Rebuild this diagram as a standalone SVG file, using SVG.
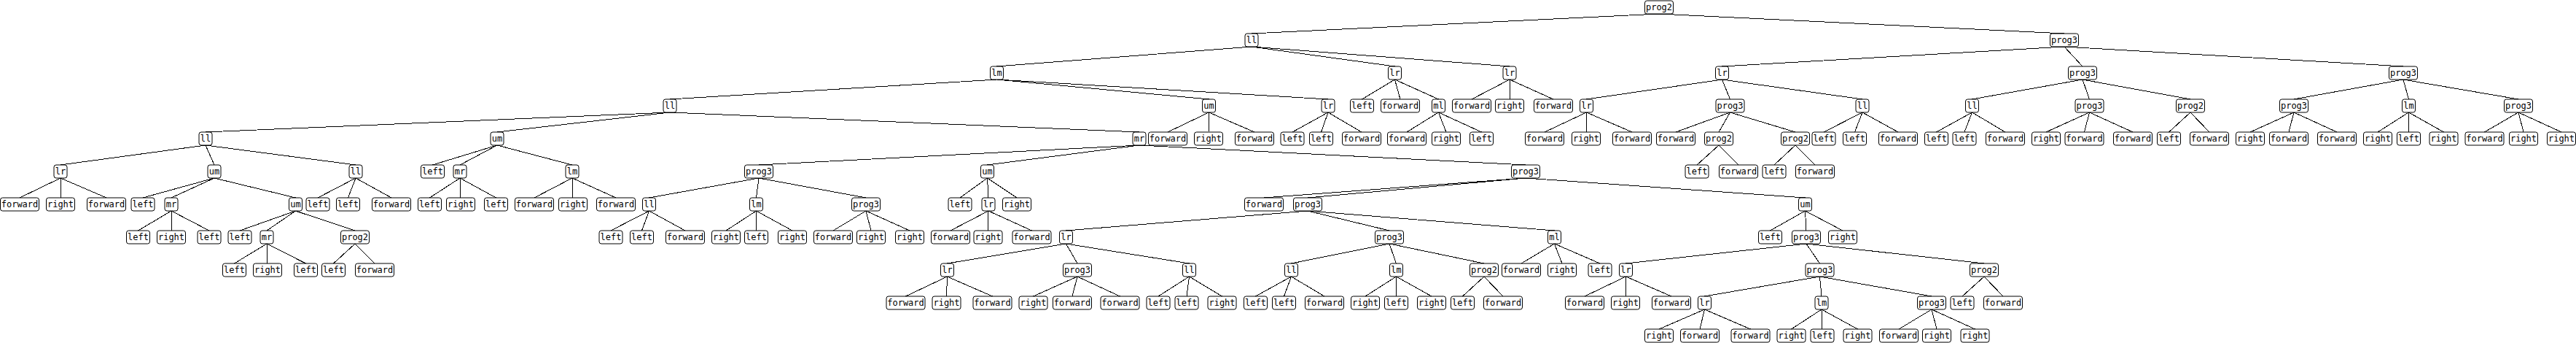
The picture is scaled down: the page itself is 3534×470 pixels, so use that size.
<svg xmlns="http://www.w3.org/2000/svg" width="3534" height="470" viewBox="0 0 3534 470">
<style>
.node rect{fill:#fff;stroke:#000;stroke-width:1;height:18px}
.node text{font-family:"DejaVu Sans Mono","Liberation Mono",monospace;font-size:12px;text-anchor:middle;fill:#000}
#connectors path{fill:none;stroke:#000;stroke-width:1;shape-rendering:crispEdges}
</style>
<rect x="0" y="0" width="3534" height="470" fill="#fff"/>
<g id="connectors">
<path d="M2276 19L1717 46M2276 19L2832 46"/>
<path d="M1717 64L1367.5 91M1717 64L1913.5 91M1717 64L2071 91"/>
<path d="M2832 64L2362.5 91M2832 64L2857 91M2832 64L3297 91"/>
<path d="M1367.5 109L919 136M1367.5 109L1658.5 136M1367.5 109L1822 136"/>
<path d="M1913.5 109L1868.5 136M1913.5 109L1921 136M1913.5 109L1973.5 136"/>
<path d="M2071 109L2019 136M2071 109L2071 136M2071 109L2131 136"/>
<path d="M2362.5 109L2176.5 136M2362.5 109L2373.5 136M2362.5 109L2555 136"/>
<path d="M2857 109L2705.5 136M2857 109L2866.5 136M2857 109L3005 136"/>
<path d="M3297 109L3147 136M3297 109L3304.5 136M3297 109L3455 136"/>
<path d="M919 154L282 181M919 154L682 181M919 154L1563 181"/>
<path d="M1658.5 154L1602 181M1658.5 154L1658 181M1658.5 154L1721 181"/>
<path d="M1822 154L1773 181M1822 154L1812.5 181M1822 154L1868 181"/>
<path d="M1973.5 154L1930 181M1973.5 154L1984 181M1973.5 154L2032.5 181"/>
<path d="M2176.5 154L2119 181M2176.5 154L2176 181M2176.5 154L2239 181"/>
<path d="M2373.5 154L2299 181M2373.5 154L2358 181M2373.5 154L2463 181"/>
<path d="M2555 154L2502 181M2555 154L2544.5 181M2555 154L2604 181"/>
<path d="M2705.5 154L2656.5 181M2705.5 154L2695 181M2705.5 154L2751 181"/>
<path d="M2866.5 154L2807 181M2866.5 154L2859.5 181M2866.5 154L2926 181"/>
<path d="M3005 154L2975.5 181M3005 154L3031 181"/>
<path d="M3147 154L3087 181M3147 154L3140 181M3147 154L3206 181"/>
<path d="M3304.5 154L3262 181M3304.5 154L3304.5 181M3304.5 154L3352.5 181"/>
<path d="M3455 154L3408.5 181M3455 154L3462 181M3455 154L3514 181"/>
<path d="M282 199L83 226M282 199L294 226M282 199L488 226"/>
<path d="M682 199L593.5 226M682 199L631 226M682 199L785 226"/>
<path d="M1563 199L1041 226M1563 199L1354.5 226M1563 199L2093 226"/>
<path d="M2358 199L2328 226M2358 199L2385 226"/>
<path d="M2463 199L2434 226M2463 199L2490 226"/>
<path d="M83 244L27 271M83 244L83 271M83 244L146 271"/>
<path d="M294 244L196 271M294 244L235 271M294 244L405.5 271"/>
<path d="M488 244L436 271M488 244L477.5 271M488 244L537 271"/>
<path d="M631 244L589.5 271M631 244L632 271M631 244L680.5 271"/>
<path d="M785 244L733 271M785 244L786 271M785 244L845 271"/>
<path d="M1041 244L890.5 271M1041 244L1037.5 271M1041 244L1188 271"/>
<path d="M1354.5 244L1317 271M1354.5 244L1356 271M1354.5 244L1395 271"/>
<path d="M2093 244L1734 271M2093 244L1794 271M2093 244L2476.5 271"/>
<path d="M235 289L189.5 316M235 289L235 316M235 289L287 316"/>
<path d="M405.5 289L329 316M405.5 289L366 316M405.5 289L487 316"/>
<path d="M890.5 289L838 316M890.5 289L880.5 316M890.5 289L940 316"/>
<path d="M1037.5 289L996 316M1037.5 289L1037.5 316M1037.5 289L1087 316"/>
<path d="M1188 289L1143 316M1188 289L1195 316M1188 289L1248 316"/>
<path d="M1356 289L1304 316M1356 289L1355.5 316M1356 289L1415.5 316"/>
<path d="M1794 289L1462.5 316M1794 289L1906 316M1794 289L2132.5 316"/>
<path d="M2476.5 289L2428.5 316M2476.5 289L2478 316M2476.5 289L2528 316"/>
<path d="M366 334L321.5 361M366 334L367 361M366 334L419.5 361"/>
<path d="M487 334L457.5 361M487 334L514 361"/>
<path d="M1462.5 334L1299.5 361M1462.5 334L1478 361M1462.5 334L1631.5 361"/>
<path d="M1906 334L1771.5 361M1906 334L1915.5 361M1906 334L2036 361"/>
<path d="M2132.5 334L2087 361M2132.5 334L2143 361M2132.5 334L2195 361"/>
<path d="M2478 334L2230.5 361M2478 334L2496.5 361M2478 334L2722 361"/>
<path d="M1299.5 379L1242.5 406M1299.5 379L1298.5 406M1299.5 379L1361.5 406"/>
<path d="M1478 379L1417.5 406M1478 379L1471 406M1478 379L1536.5 406"/>
<path d="M1631.5 379L1589 406M1631.5 379L1628 406M1631.5 379L1676.5 406"/>
<path d="M1771.5 379L1722.5 406M1771.5 379L1761.5 406M1771.5 379L1817 406"/>
<path d="M1915.5 379L1873 406M1915.5 379L1915.5 406M1915.5 379L1964 406"/>
<path d="M2036 379L2006.5 406M2036 379L2062 406"/>
<path d="M2230.5 379L2174 406M2230.5 379L2230 406M2230.5 379L2293 406"/>
<path d="M2496.5 379L2338.5 406M2496.5 379L2499 406M2496.5 379L2650 406"/>
<path d="M2722 379L2692 406M2722 379L2748 406"/>
<path d="M2338.5 424L2276 451M2338.5 424L2332 451M2338.5 424L2401.5 451"/>
<path d="M2499 424L2457.5 451M2499 424L2500 451M2499 424L2548.5 451"/>
<path d="M2650 424L2605 451M2650 424L2657 451M2650 424L2709.5 451"/>
</g>
<g id="n0" class="node"><rect x="2256.5" y="1" width="39" height="18" rx="3"/><text x="2276" y="14.3">prog2</text></g>
<g id="n1" class="node"><rect x="1708" y="46" width="18" height="18" rx="3"/><text x="1717" y="59.3">ll</text></g>
<g id="n2" class="node"><rect x="2812.5" y="46" width="39" height="18" rx="3"/><text x="2832" y="59.3">prog3</text></g>
<g id="n3" class="node"><rect x="1358.5" y="91" width="18" height="18" rx="3"/><text x="1367.5" y="104.3">lm</text></g>
<g id="n4" class="node"><rect x="1904.5" y="91" width="18" height="18" rx="3"/><text x="1913.5" y="104.3">lr</text></g>
<g id="n5" class="node"><rect x="2062" y="91" width="18" height="18" rx="3"/><text x="2071" y="104.3">lr</text></g>
<g id="n6" class="node"><rect x="2353.5" y="91" width="18" height="18" rx="3"/><text x="2362.5" y="104.3">lr</text></g>
<g id="n7" class="node"><rect x="2837.5" y="91" width="39" height="18" rx="3"/><text x="2857" y="104.3">prog3</text></g>
<g id="n8" class="node"><rect x="3277.5" y="91" width="39" height="18" rx="3"/><text x="3297" y="104.3">prog3</text></g>
<g id="n9" class="node"><rect x="910" y="136" width="18" height="18" rx="3"/><text x="919" y="149.3">ll</text></g>
<g id="n10" class="node"><rect x="1649.5" y="136" width="18" height="18" rx="3"/><text x="1658.5" y="149.3">um</text></g>
<g id="n11" class="node"><rect x="1813" y="136" width="18" height="18" rx="3"/><text x="1822" y="149.3">lr</text></g>
<g id="n12" class="node"><rect x="1852.5" y="136" width="32" height="18" rx="3"/><text x="1868.5" y="149.3">left</text></g>
<g id="n13" class="node"><rect x="1894.5" y="136" width="53" height="18" rx="3"/><text x="1921" y="149.3">forward</text></g>
<g id="n14" class="node"><rect x="1964.5" y="136" width="18" height="18" rx="3"/><text x="1973.5" y="149.3">ml</text></g>
<g id="n15" class="node"><rect x="1992.5" y="136" width="53" height="18" rx="3"/><text x="2019" y="149.3">forward</text></g>
<g id="n16" class="node"><rect x="2051.5" y="136" width="39" height="18" rx="3"/><text x="2071" y="149.3">right</text></g>
<g id="n17" class="node"><rect x="2104.5" y="136" width="53" height="18" rx="3"/><text x="2131" y="149.3">forward</text></g>
<g id="n18" class="node"><rect x="2167.5" y="136" width="18" height="18" rx="3"/><text x="2176.5" y="149.3">lr</text></g>
<g id="n19" class="node"><rect x="2354" y="136" width="39" height="18" rx="3"/><text x="2373.5" y="149.3">prog3</text></g>
<g id="n20" class="node"><rect x="2546" y="136" width="18" height="18" rx="3"/><text x="2555" y="149.3">ll</text></g>
<g id="n21" class="node"><rect x="2696.5" y="136" width="18" height="18" rx="3"/><text x="2705.5" y="149.3">ll</text></g>
<g id="n22" class="node"><rect x="2847" y="136" width="39" height="18" rx="3"/><text x="2866.5" y="149.3">prog3</text></g>
<g id="n23" class="node"><rect x="2985.5" y="136" width="39" height="18" rx="3"/><text x="3005" y="149.3">prog2</text></g>
<g id="n24" class="node"><rect x="3127.5" y="136" width="39" height="18" rx="3"/><text x="3147" y="149.3">prog3</text></g>
<g id="n25" class="node"><rect x="3295.5" y="136" width="18" height="18" rx="3"/><text x="3304.5" y="149.3">lm</text></g>
<g id="n26" class="node"><rect x="3435.5" y="136" width="39" height="18" rx="3"/><text x="3455" y="149.3">prog3</text></g>
<g id="n27" class="node"><rect x="273" y="181" width="18" height="18" rx="3"/><text x="282" y="194.3">ll</text></g>
<g id="n28" class="node"><rect x="673" y="181" width="18" height="18" rx="3"/><text x="682" y="194.3">um</text></g>
<g id="n29" class="node"><rect x="1554" y="181" width="18" height="18" rx="3"/><text x="1563" y="194.3">mr</text></g>
<g id="n30" class="node"><rect x="1575.5" y="181" width="53" height="18" rx="3"/><text x="1602" y="194.3">forward</text></g>
<g id="n31" class="node"><rect x="1638.5" y="181" width="39" height="18" rx="3"/><text x="1658" y="194.3">right</text></g>
<g id="n32" class="node"><rect x="1694.5" y="181" width="53" height="18" rx="3"/><text x="1721" y="194.3">forward</text></g>
<g id="n33" class="node"><rect x="1757" y="181" width="32" height="18" rx="3"/><text x="1773" y="194.3">left</text></g>
<g id="n34" class="node"><rect x="1796.5" y="181" width="32" height="18" rx="3"/><text x="1812.5" y="194.3">left</text></g>
<g id="n35" class="node"><rect x="1841.5" y="181" width="53" height="18" rx="3"/><text x="1868" y="194.3">forward</text></g>
<g id="n36" class="node"><rect x="1903.5" y="181" width="53" height="18" rx="3"/><text x="1930" y="194.3">forward</text></g>
<g id="n37" class="node"><rect x="1964.5" y="181" width="39" height="18" rx="3"/><text x="1984" y="194.3">right</text></g>
<g id="n38" class="node"><rect x="2016.5" y="181" width="32" height="18" rx="3"/><text x="2032.5" y="194.3">left</text></g>
<g id="n39" class="node"><rect x="2092.5" y="181" width="53" height="18" rx="3"/><text x="2119" y="194.3">forward</text></g>
<g id="n40" class="node"><rect x="2156.5" y="181" width="39" height="18" rx="3"/><text x="2176" y="194.3">right</text></g>
<g id="n41" class="node"><rect x="2212.5" y="181" width="53" height="18" rx="3"/><text x="2239" y="194.3">forward</text></g>
<g id="n42" class="node"><rect x="2272.5" y="181" width="53" height="18" rx="3"/><text x="2299" y="194.3">forward</text></g>
<g id="n43" class="node"><rect x="2338.5" y="181" width="39" height="18" rx="3"/><text x="2358" y="194.3">prog2</text></g>
<g id="n44" class="node"><rect x="2443.5" y="181" width="39" height="18" rx="3"/><text x="2463" y="194.3">prog2</text></g>
<g id="n45" class="node"><rect x="2486" y="181" width="32" height="18" rx="3"/><text x="2502" y="194.3">left</text></g>
<g id="n46" class="node"><rect x="2528.5" y="181" width="32" height="18" rx="3"/><text x="2544.5" y="194.3">left</text></g>
<g id="n47" class="node"><rect x="2577.5" y="181" width="53" height="18" rx="3"/><text x="2604" y="194.3">forward</text></g>
<g id="n48" class="node"><rect x="2640.5" y="181" width="32" height="18" rx="3"/><text x="2656.5" y="194.3">left</text></g>
<g id="n49" class="node"><rect x="2679" y="181" width="32" height="18" rx="3"/><text x="2695" y="194.3">left</text></g>
<g id="n50" class="node"><rect x="2724.5" y="181" width="53" height="18" rx="3"/><text x="2751" y="194.3">forward</text></g>
<g id="n51" class="node"><rect x="2787.5" y="181" width="39" height="18" rx="3"/><text x="2807" y="194.3">right</text></g>
<g id="n52" class="node"><rect x="2833" y="181" width="53" height="18" rx="3"/><text x="2859.5" y="194.3">forward</text></g>
<g id="n53" class="node"><rect x="2899.5" y="181" width="53" height="18" rx="3"/><text x="2926" y="194.3">forward</text></g>
<g id="n54" class="node"><rect x="2959.5" y="181" width="32" height="18" rx="3"/><text x="2975.5" y="194.3">left</text></g>
<g id="n55" class="node"><rect x="3004.5" y="181" width="53" height="18" rx="3"/><text x="3031" y="194.3">forward</text></g>
<g id="n56" class="node"><rect x="3067.5" y="181" width="39" height="18" rx="3"/><text x="3087" y="194.3">right</text></g>
<g id="n57" class="node"><rect x="3113.5" y="181" width="53" height="18" rx="3"/><text x="3140" y="194.3">forward</text></g>
<g id="n58" class="node"><rect x="3179.5" y="181" width="53" height="18" rx="3"/><text x="3206" y="194.3">forward</text></g>
<g id="n59" class="node"><rect x="3242.5" y="181" width="39" height="18" rx="3"/><text x="3262" y="194.3">right</text></g>
<g id="n60" class="node"><rect x="3288.5" y="181" width="32" height="18" rx="3"/><text x="3304.5" y="194.3">left</text></g>
<g id="n61" class="node"><rect x="3333" y="181" width="39" height="18" rx="3"/><text x="3352.5" y="194.3">right</text></g>
<g id="n62" class="node"><rect x="3382" y="181" width="53" height="18" rx="3"/><text x="3408.5" y="194.3">forward</text></g>
<g id="n63" class="node"><rect x="3442.5" y="181" width="39" height="18" rx="3"/><text x="3462" y="194.3">right</text></g>
<g id="n64" class="node"><rect x="3494.5" y="181" width="39" height="18" rx="3"/><text x="3514" y="194.3">right</text></g>
<g id="n65" class="node"><rect x="74" y="226" width="18" height="18" rx="3"/><text x="83" y="239.3">lr</text></g>
<g id="n66" class="node"><rect x="285" y="226" width="18" height="18" rx="3"/><text x="294" y="239.3">um</text></g>
<g id="n67" class="node"><rect x="479" y="226" width="18" height="18" rx="3"/><text x="488" y="239.3">ll</text></g>
<g id="n68" class="node"><rect x="577.5" y="226" width="32" height="18" rx="3"/><text x="593.5" y="239.3">left</text></g>
<g id="n69" class="node"><rect x="622" y="226" width="18" height="18" rx="3"/><text x="631" y="239.3">mr</text></g>
<g id="n70" class="node"><rect x="776" y="226" width="18" height="18" rx="3"/><text x="785" y="239.3">lm</text></g>
<g id="n71" class="node"><rect x="1021.5" y="226" width="39" height="18" rx="3"/><text x="1041" y="239.3">prog3</text></g>
<g id="n72" class="node"><rect x="1345.5" y="226" width="18" height="18" rx="3"/><text x="1354.5" y="239.3">um</text></g>
<g id="n73" class="node"><rect x="2073.5" y="226" width="39" height="18" rx="3"/><text x="2093" y="239.3">prog3</text></g>
<g id="n74" class="node"><rect x="2312" y="226" width="32" height="18" rx="3"/><text x="2328" y="239.3">left</text></g>
<g id="n75" class="node"><rect x="2358.5" y="226" width="53" height="18" rx="3"/><text x="2385" y="239.3">forward</text></g>
<g id="n76" class="node"><rect x="2418" y="226" width="32" height="18" rx="3"/><text x="2434" y="239.3">left</text></g>
<g id="n77" class="node"><rect x="2463.5" y="226" width="53" height="18" rx="3"/><text x="2490" y="239.3">forward</text></g>
<g id="n78" class="node"><rect x="0.5" y="271" width="53" height="18" rx="3"/><text x="27" y="284.3">forward</text></g>
<g id="n79" class="node"><rect x="63.5" y="271" width="39" height="18" rx="3"/><text x="83" y="284.3">right</text></g>
<g id="n80" class="node"><rect x="119.5" y="271" width="53" height="18" rx="3"/><text x="146" y="284.3">forward</text></g>
<g id="n81" class="node"><rect x="180" y="271" width="32" height="18" rx="3"/><text x="196" y="284.3">left</text></g>
<g id="n82" class="node"><rect x="226" y="271" width="18" height="18" rx="3"/><text x="235" y="284.3">mr</text></g>
<g id="n83" class="node"><rect x="396.5" y="271" width="18" height="18" rx="3"/><text x="405.5" y="284.3">um</text></g>
<g id="n84" class="node"><rect x="420" y="271" width="32" height="18" rx="3"/><text x="436" y="284.3">left</text></g>
<g id="n85" class="node"><rect x="461.5" y="271" width="32" height="18" rx="3"/><text x="477.5" y="284.3">left</text></g>
<g id="n86" class="node"><rect x="510.5" y="271" width="53" height="18" rx="3"/><text x="537" y="284.3">forward</text></g>
<g id="n87" class="node"><rect x="573.5" y="271" width="32" height="18" rx="3"/><text x="589.5" y="284.3">left</text></g>
<g id="n88" class="node"><rect x="612.5" y="271" width="39" height="18" rx="3"/><text x="632" y="284.3">right</text></g>
<g id="n89" class="node"><rect x="664.5" y="271" width="32" height="18" rx="3"/><text x="680.5" y="284.3">left</text></g>
<g id="n90" class="node"><rect x="706.5" y="271" width="53" height="18" rx="3"/><text x="733" y="284.3">forward</text></g>
<g id="n91" class="node"><rect x="766.5" y="271" width="39" height="18" rx="3"/><text x="786" y="284.3">right</text></g>
<g id="n92" class="node"><rect x="818.5" y="271" width="53" height="18" rx="3"/><text x="845" y="284.3">forward</text></g>
<g id="n93" class="node"><rect x="881.5" y="271" width="18" height="18" rx="3"/><text x="890.5" y="284.3">ll</text></g>
<g id="n94" class="node"><rect x="1028.5" y="271" width="18" height="18" rx="3"/><text x="1037.5" y="284.3">lm</text></g>
<g id="n95" class="node"><rect x="1168.5" y="271" width="39" height="18" rx="3"/><text x="1188" y="284.3">prog3</text></g>
<g id="n96" class="node"><rect x="1301" y="271" width="32" height="18" rx="3"/><text x="1317" y="284.3">left</text></g>
<g id="n97" class="node"><rect x="1347" y="271" width="18" height="18" rx="3"/><text x="1356" y="284.3">lr</text></g>
<g id="n98" class="node"><rect x="1375.5" y="271" width="39" height="18" rx="3"/><text x="1395" y="284.3">right</text></g>
<g id="n99" class="node"><rect x="1707.5" y="271" width="53" height="18" rx="3"/><text x="1734" y="284.3">forward</text></g>
<g id="n100" class="node"><rect x="1774.5" y="271" width="39" height="18" rx="3"/><text x="1794" y="284.3">prog3</text></g>
<g id="n101" class="node"><rect x="2467.5" y="271" width="18" height="18" rx="3"/><text x="2476.5" y="284.3">um</text></g>
<g id="n102" class="node"><rect x="173.5" y="316" width="32" height="18" rx="3"/><text x="189.5" y="329.3">left</text></g>
<g id="n103" class="node"><rect x="215.5" y="316" width="39" height="18" rx="3"/><text x="235" y="329.3">right</text></g>
<g id="n104" class="node"><rect x="271" y="316" width="32" height="18" rx="3"/><text x="287" y="329.3">left</text></g>
<g id="n105" class="node"><rect x="313" y="316" width="32" height="18" rx="3"/><text x="329" y="329.3">left</text></g>
<g id="n106" class="node"><rect x="357" y="316" width="18" height="18" rx="3"/><text x="366" y="329.3">mr</text></g>
<g id="n107" class="node"><rect x="467.5" y="316" width="39" height="18" rx="3"/><text x="487" y="329.3">prog2</text></g>
<g id="n108" class="node"><rect x="822" y="316" width="32" height="18" rx="3"/><text x="838" y="329.3">left</text></g>
<g id="n109" class="node"><rect x="864.5" y="316" width="32" height="18" rx="3"/><text x="880.5" y="329.3">left</text></g>
<g id="n110" class="node"><rect x="913.5" y="316" width="53" height="18" rx="3"/><text x="940" y="329.3">forward</text></g>
<g id="n111" class="node"><rect x="976.5" y="316" width="39" height="18" rx="3"/><text x="996" y="329.3">right</text></g>
<g id="n112" class="node"><rect x="1021.5" y="316" width="32" height="18" rx="3"/><text x="1037.5" y="329.3">left</text></g>
<g id="n113" class="node"><rect x="1067.5" y="316" width="39" height="18" rx="3"/><text x="1087" y="329.3">right</text></g>
<g id="n114" class="node"><rect x="1116.5" y="316" width="53" height="18" rx="3"/><text x="1143" y="329.3">forward</text></g>
<g id="n115" class="node"><rect x="1175.5" y="316" width="39" height="18" rx="3"/><text x="1195" y="329.3">right</text></g>
<g id="n116" class="node"><rect x="1228.5" y="316" width="39" height="18" rx="3"/><text x="1248" y="329.3">right</text></g>
<g id="n117" class="node"><rect x="1277.5" y="316" width="53" height="18" rx="3"/><text x="1304" y="329.3">forward</text></g>
<g id="n118" class="node"><rect x="1336" y="316" width="39" height="18" rx="3"/><text x="1355.5" y="329.3">right</text></g>
<g id="n119" class="node"><rect x="1389" y="316" width="53" height="18" rx="3"/><text x="1415.5" y="329.3">forward</text></g>
<g id="n120" class="node"><rect x="1453.5" y="316" width="18" height="18" rx="3"/><text x="1462.5" y="329.3">lr</text></g>
<g id="n121" class="node"><rect x="1886.5" y="316" width="39" height="18" rx="3"/><text x="1906" y="329.3">prog3</text></g>
<g id="n122" class="node"><rect x="2123.5" y="316" width="18" height="18" rx="3"/><text x="2132.5" y="329.3">ml</text></g>
<g id="n123" class="node"><rect x="2412.5" y="316" width="32" height="18" rx="3"/><text x="2428.5" y="329.3">left</text></g>
<g id="n124" class="node"><rect x="2458.5" y="316" width="39" height="18" rx="3"/><text x="2478" y="329.3">prog3</text></g>
<g id="n125" class="node"><rect x="2508.5" y="316" width="39" height="18" rx="3"/><text x="2528" y="329.3">right</text></g>
<g id="n126" class="node"><rect x="305.5" y="361" width="32" height="18" rx="3"/><text x="321.5" y="374.3">left</text></g>
<g id="n127" class="node"><rect x="347.5" y="361" width="39" height="18" rx="3"/><text x="367" y="374.3">right</text></g>
<g id="n128" class="node"><rect x="403.5" y="361" width="32" height="18" rx="3"/><text x="419.5" y="374.3">left</text></g>
<g id="n129" class="node"><rect x="441.5" y="361" width="32" height="18" rx="3"/><text x="457.5" y="374.3">left</text></g>
<g id="n130" class="node"><rect x="487.5" y="361" width="53" height="18" rx="3"/><text x="514" y="374.3">forward</text></g>
<g id="n131" class="node"><rect x="1290.5" y="361" width="18" height="18" rx="3"/><text x="1299.5" y="374.3">lr</text></g>
<g id="n132" class="node"><rect x="1458.5" y="361" width="39" height="18" rx="3"/><text x="1478" y="374.3">prog3</text></g>
<g id="n133" class="node"><rect x="1622.5" y="361" width="18" height="18" rx="3"/><text x="1631.5" y="374.3">ll</text></g>
<g id="n134" class="node"><rect x="1762.5" y="361" width="18" height="18" rx="3"/><text x="1771.5" y="374.3">ll</text></g>
<g id="n135" class="node"><rect x="1906.5" y="361" width="18" height="18" rx="3"/><text x="1915.5" y="374.3">lm</text></g>
<g id="n136" class="node"><rect x="2016.5" y="361" width="39" height="18" rx="3"/><text x="2036" y="374.3">prog2</text></g>
<g id="n137" class="node"><rect x="2060.5" y="361" width="53" height="18" rx="3"/><text x="2087" y="374.3">forward</text></g>
<g id="n138" class="node"><rect x="2123.5" y="361" width="39" height="18" rx="3"/><text x="2143" y="374.3">right</text></g>
<g id="n139" class="node"><rect x="2179" y="361" width="32" height="18" rx="3"/><text x="2195" y="374.3">left</text></g>
<g id="n140" class="node"><rect x="2221.5" y="361" width="18" height="18" rx="3"/><text x="2230.5" y="374.3">lr</text></g>
<g id="n141" class="node"><rect x="2477" y="361" width="39" height="18" rx="3"/><text x="2496.5" y="374.3">prog3</text></g>
<g id="n142" class="node"><rect x="2702.5" y="361" width="39" height="18" rx="3"/><text x="2722" y="374.3">prog2</text></g>
<g id="n143" class="node"><rect x="1216" y="406" width="53" height="18" rx="3"/><text x="1242.5" y="419.3">forward</text></g>
<g id="n144" class="node"><rect x="1279" y="406" width="39" height="18" rx="3"/><text x="1298.5" y="419.3">right</text></g>
<g id="n145" class="node"><rect x="1335" y="406" width="53" height="18" rx="3"/><text x="1361.5" y="419.3">forward</text></g>
<g id="n146" class="node"><rect x="1398" y="406" width="39" height="18" rx="3"/><text x="1417.5" y="419.3">right</text></g>
<g id="n147" class="node"><rect x="1444.5" y="406" width="53" height="18" rx="3"/><text x="1471" y="419.3">forward</text></g>
<g id="n148" class="node"><rect x="1510" y="406" width="53" height="18" rx="3"/><text x="1536.5" y="419.3">forward</text></g>
<g id="n149" class="node"><rect x="1573" y="406" width="32" height="18" rx="3"/><text x="1589" y="419.3">left</text></g>
<g id="n150" class="node"><rect x="1612" y="406" width="32" height="18" rx="3"/><text x="1628" y="419.3">left</text></g>
<g id="n151" class="node"><rect x="1657" y="406" width="39" height="18" rx="3"/><text x="1676.5" y="419.3">right</text></g>
<g id="n152" class="node"><rect x="1706.5" y="406" width="32" height="18" rx="3"/><text x="1722.5" y="419.3">left</text></g>
<g id="n153" class="node"><rect x="1745.5" y="406" width="32" height="18" rx="3"/><text x="1761.5" y="419.3">left</text></g>
<g id="n154" class="node"><rect x="1790.5" y="406" width="53" height="18" rx="3"/><text x="1817" y="419.3">forward</text></g>
<g id="n155" class="node"><rect x="1853.5" y="406" width="39" height="18" rx="3"/><text x="1873" y="419.3">right</text></g>
<g id="n156" class="node"><rect x="1899.5" y="406" width="32" height="18" rx="3"/><text x="1915.5" y="419.3">left</text></g>
<g id="n157" class="node"><rect x="1944.5" y="406" width="39" height="18" rx="3"/><text x="1964" y="419.3">right</text></g>
<g id="n158" class="node"><rect x="1990.5" y="406" width="32" height="18" rx="3"/><text x="2006.5" y="419.3">left</text></g>
<g id="n159" class="node"><rect x="2035.5" y="406" width="53" height="18" rx="3"/><text x="2062" y="419.3">forward</text></g>
<g id="n160" class="node"><rect x="2147.5" y="406" width="53" height="18" rx="3"/><text x="2174" y="419.3">forward</text></g>
<g id="n161" class="node"><rect x="2210.5" y="406" width="39" height="18" rx="3"/><text x="2230" y="419.3">right</text></g>
<g id="n162" class="node"><rect x="2266.5" y="406" width="53" height="18" rx="3"/><text x="2293" y="419.3">forward</text></g>
<g id="n163" class="node"><rect x="2329.5" y="406" width="18" height="18" rx="3"/><text x="2338.5" y="419.3">lr</text></g>
<g id="n164" class="node"><rect x="2490" y="406" width="18" height="18" rx="3"/><text x="2499" y="419.3">lm</text></g>
<g id="n165" class="node"><rect x="2630.5" y="406" width="39" height="18" rx="3"/><text x="2650" y="419.3">prog3</text></g>
<g id="n166" class="node"><rect x="2676" y="406" width="32" height="18" rx="3"/><text x="2692" y="419.3">left</text></g>
<g id="n167" class="node"><rect x="2721.5" y="406" width="53" height="18" rx="3"/><text x="2748" y="419.3">forward</text></g>
<g id="n168" class="node"><rect x="2256.5" y="451" width="39" height="18" rx="3"/><text x="2276" y="464.3">right</text></g>
<g id="n169" class="node"><rect x="2305.5" y="451" width="53" height="18" rx="3"/><text x="2332" y="464.3">forward</text></g>
<g id="n170" class="node"><rect x="2375" y="451" width="53" height="18" rx="3"/><text x="2401.5" y="464.3">forward</text></g>
<g id="n171" class="node"><rect x="2438" y="451" width="39" height="18" rx="3"/><text x="2457.5" y="464.3">right</text></g>
<g id="n172" class="node"><rect x="2484" y="451" width="32" height="18" rx="3"/><text x="2500" y="464.3">left</text></g>
<g id="n173" class="node"><rect x="2529" y="451" width="39" height="18" rx="3"/><text x="2548.5" y="464.3">right</text></g>
<g id="n174" class="node"><rect x="2578.5" y="451" width="53" height="18" rx="3"/><text x="2605" y="464.3">forward</text></g>
<g id="n175" class="node"><rect x="2637.5" y="451" width="39" height="18" rx="3"/><text x="2657" y="464.3">right</text></g>
<g id="n176" class="node"><rect x="2690" y="451" width="39" height="18" rx="3"/><text x="2709.5" y="464.3">right</text></g>
</svg>
